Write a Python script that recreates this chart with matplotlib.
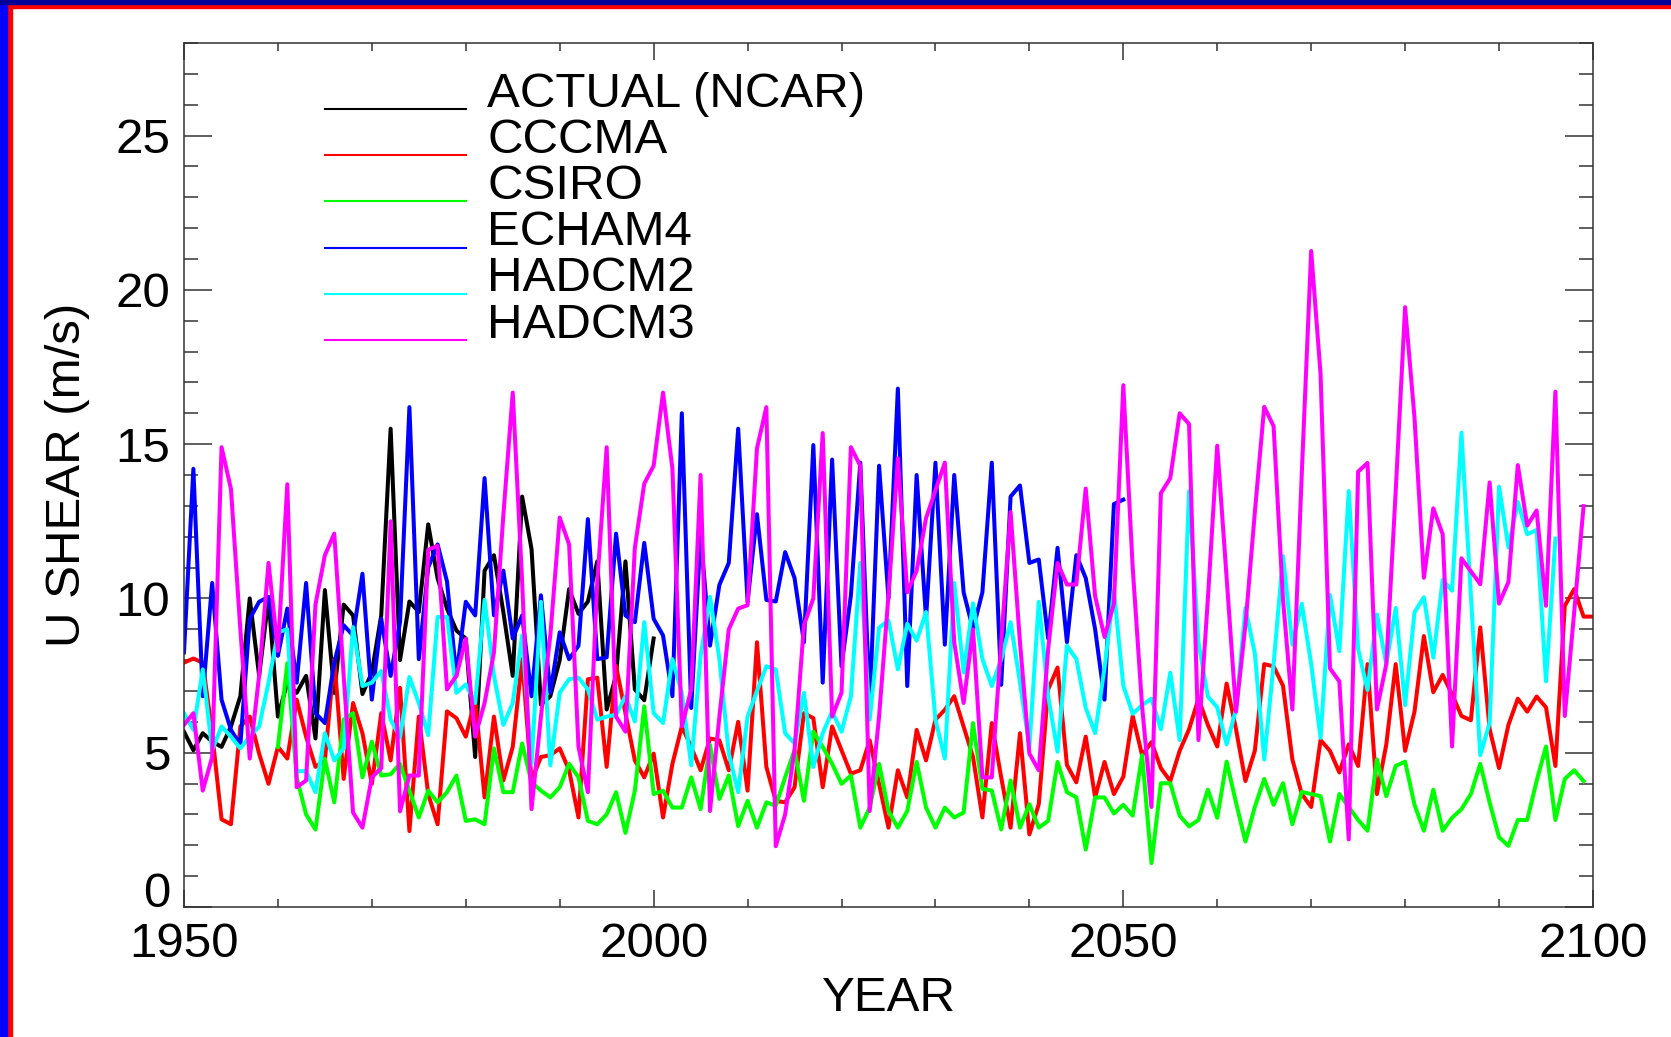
import numpy as np
import matplotlib
matplotlib.use('Agg')
import matplotlib.pyplot as plt
from matplotlib.patches import Rectangle
from matplotlib.ticker import MultipleLocator

# annual U shear (m/s)
actual_start = 1950
actual = [5.68, 5.08, 5.63, 5.36, 5.19, 5.85, 6.83, 10.0, 7.5, 10.0,
          6.17, 7.27, 6.94, 7.49, 5.46, 10.27, 6.94, 9.8, 9.45, 6.9,
          7.6, 9.45, 15.5, 8.0, 9.9, 9.56, 12.4, 10.65, 9.67, 8.96,
          8.7, 4.86, 10.9, 11.4, 9.56, 7.49, 13.3, 11.6, 6.56, 6.83,
          8.0, 10.3, 9.5, 9.9, 11.2, 6.4, 7.5, 11.2, 7.05, 6.7,
          8.7]

cccma_start = 1950
cccma = [7.92, 8.05, 7.92, 5.63, 2.84, 2.68, 5.85, 6.17, 4.97, 3.99,
         5.19, 4.81, 6.72, 5.52, 4.54, 4.75, 8.03, 4.15, 6.61, 5.63,
         3.99, 6.28, 4.75, 7.1, 2.46, 6.17, 3.66, 2.68, 6.34, 6.12,
         5.52, 6.72, 3.55, 6.17, 4.1, 5.19, 8.03, 4.1, 4.86, 4.92,
         5.14, 4.43, 2.9, 7.38, 7.43, 4.54, 7.81, 6.28, 4.75, 4.2,
         4.97, 2.9, 4.64, 5.85, 5.19, 4.43, 5.46, 5.4, 4.43, 6.0,
         3.77, 8.58, 4.54, 3.44, 3.39, 3.88, 6.28, 6.12, 3.88, 5.85,
         5.08, 4.32, 4.43, 5.4, 3.99, 2.57, 4.43, 3.55, 5.74, 4.75,
         6.07, 6.39, 6.83, 5.85, 4.86, 2.9, 5.96, 4.2, 2.57, 5.63,
         2.35, 3.33, 7.05, 7.76, 4.6, 4.04, 5.52, 3.55, 4.7, 3.66,
         4.22, 6.19, 4.92, 5.34, 4.5, 4.08, 5.06, 5.76, 6.75, 5.9,
         5.2, 7.24, 5.76, 4.08, 5.06, 7.87, 7.8, 7.17, 4.78, 3.66,
         3.24, 5.41, 5.06, 4.36, 5.27, 4.57, 7.87, 3.66, 5.27, 7.87,
         5.06, 6.33, 8.78, 6.96, 7.52, 6.89, 6.19, 6.05, 9.06, 5.76,
         4.5, 5.9, 6.75, 6.33, 6.82, 6.47, 4.57, 9.76, 10.3, 9.41,
         9.41]

csiro_start = 1960
csiro = [5.19, 7.9, 4.2, 3.0, 2.51, 4.8, 3.39, 6.07, 6.28, 4.2,
         5.36, 4.26, 4.3, 4.64, 3.77, 2.9, 3.77, 3.39, 3.72, 4.26,
         2.79, 2.84, 2.68, 5.14, 3.72, 3.72, 5.3, 4.04, 3.77, 3.55,
         3.88, 4.64, 4.2, 2.79, 2.68, 3.0, 3.72, 2.4, 3.77, 6.5,
         3.66, 3.77, 3.22, 3.22, 4.2, 3.17, 5.25, 3.5, 4.26, 2.62,
         3.44, 2.57, 3.39, 3.28, 4.2, 5.08, 3.44, 5.68, 5.19, 4.64,
         3.99, 4.26, 2.57, 3.22, 4.64, 3.11, 2.57, 3.11, 4.7, 3.22,
         2.57, 3.22, 2.9, 3.06, 5.96, 3.83, 3.77, 2.51, 4.1, 2.57,
         3.33, 2.57, 2.79, 4.7, 3.72, 3.55, 1.86, 3.55, 3.55, 3.03,
         3.31, 2.96, 4.92, 1.42, 4.01, 4.01, 2.96, 2.61, 2.82, 3.8,
         2.89, 4.71, 3.38, 2.12, 3.24, 4.15, 3.31, 4.01, 2.68, 3.73,
         3.66, 3.59, 2.12, 3.66, 3.24, 2.82, 2.47, 4.78, 3.59, 4.57,
         4.71, 3.31, 2.47, 3.8, 2.47, 2.89, 3.17, 3.66, 4.64, 3.38,
         2.26, 1.98, 2.82, 2.82, 4.08, 5.2, 2.82, 4.15, 4.43, 4.08]

echam4_start = 1950
echam4 = [8.25, 14.2, 6.83, 10.5, 6.72, 5.74, 5.25, 9.34, 9.89, 10.05,
          8.14, 9.67, 7.27, 10.5, 6.28, 5.96, 7.92, 9.13, 8.8, 10.8,
          6.72, 9.34, 7.49, 9.23, 16.2, 8.03, 11.0, 11.75, 10.55, 7.49,
          9.89, 9.45, 13.9, 9.45, 10.9, 8.7, 9.45, 6.83, 10.1, 6.94,
          8.9, 8.03, 8.47, 12.57, 8.03, 8.09, 12.1, 9.45, 9.23, 11.8,
          9.34, 8.8, 6.83, 16.0, 6.45, 12.08, 8.47, 10.44, 11.15, 15.5,
          9.89, 12.73, 9.95, 9.9, 11.5, 10.66, 8.58, 14.97, 7.27, 14.5,
          7.8, 10.1, 14.4, 6.5, 14.3, 10.0, 16.8, 7.16, 14.0, 9.34,
          14.4, 8.5, 14.0, 10.2, 9.0, 10.2, 14.4, 7.2, 13.3, 13.66,
          11.15, 11.26, 8.7, 11.64, 8.58, 11.4, 10.66, 9.0, 6.72, 13.06,
          13.2]

hadcm2_start = 1950
hadcm2 = [6.28, 5.74, 7.7, 5.08, 5.85, 5.52, 5.14, 5.52, 5.85, 7.27,
          8.9, 9.0, 4.4, 4.4, 3.72, 5.63, 4.75, 5.14, 9.07, 7.16,
          7.27, 7.65, 6.07, 5.5, 7.45, 6.61, 5.57, 9.4, 9.4, 6.94,
          7.21, 6.61, 9.95, 7.49, 5.9, 6.61, 8.8, 4.64, 9.89, 4.59,
          6.94, 7.38, 7.43, 7.05, 6.07, 6.17, 6.23, 6.83, 6.01, 9.23,
          6.28, 5.96, 8.03, 6.94, 4.59, 8.14, 10.05, 8.03, 4.97, 3.72,
          6.17, 7.0, 7.8, 7.7, 5.63, 5.3, 6.94, 4.54, 5.63, 6.34,
          5.68, 6.83, 11.15, 6.07, 9.05, 9.29, 7.7, 9.18, 8.63, 9.56,
          6.07, 4.81, 10.5, 7.6, 9.84, 8.03, 7.16, 8.03, 9.23, 7.27,
          5.19, 9.89, 6.83, 5.03, 8.47, 8.03, 6.45, 5.63, 7.75, 10.25,
          7.17, 6.26, 6.54, 6.75, 5.76, 7.59, 5.41, 13.48, 8.57, 6.82,
          6.47, 5.27, 6.4, 9.69, 8.22, 4.78, 7.87, 11.37, 8.5, 9.83,
          7.87, 5.48, 10.11, 8.29, 13.48, 8.36, 7.03, 9.48, 7.87, 9.69,
          6.54, 9.55, 10.04, 8.08, 10.6, 10.25, 15.37, 10.11, 4.92, 5.97,
          13.62, 11.65, 13.13, 12.08, 12.22, 7.31, 11.94]

hadcm3_start = 1950
hadcm3 = [5.9, 6.28, 3.77, 4.86, 14.9, 13.55, 9.0, 4.81, 7.5, 11.15,
          8.3, 13.7, 3.88, 4.1, 9.8, 11.4, 12.1, 7.5, 3.06, 2.57,
          4.2, 4.5, 12.5, 3.1, 4.26, 4.26, 11.58, 11.7, 7.05, 7.49,
          8.69, 5.52, 6.61, 8.25, 12.7, 16.67, 10.55, 3.17, 6.17, 8.8,
          12.62, 11.75, 5.19, 3.72, 10.55, 14.9, 6.17, 5.68, 11.64, 13.72,
          14.3, 16.67, 14.2, 5.85, 7.05, 14.0, 3.11, 6.17, 9.0, 9.67,
          9.78, 14.86, 16.2, 1.97, 3.0, 5.08, 9.13, 10.0, 15.36, 6.17,
          6.94, 14.9, 14.3, 3.11, 6.17, 10.1, 14.54, 10.2, 10.9, 12.6,
          13.5, 14.4, 8.58, 6.61, 9.0, 4.2, 4.2, 8.58, 12.8, 8.58,
          4.97, 4.43, 8.36, 11.15, 10.45, 10.45, 13.56, 10.07, 8.75, 9.83,
          16.91, 11.0, 6.5, 3.24, 13.41, 13.9, 16.0, 15.65, 5.41, 9.97,
          14.95, 10.67, 6.33, 9.13, 12.78, 16.21, 15.58, 9.97, 6.4, 14.04,
          21.26, 17.27, 7.73, 7.31, 2.19, 14.11, 14.39, 6.4, 7.87, 13.48,
          19.44, 15.86, 10.67, 12.92, 12.08, 5.2, 11.3, 10.88, 10.46, 13.76,
          9.83, 10.53, 14.32, 12.36, 12.85, 9.76, 16.7, 6.19, 9.55, 12.99]

labels = ['ACTUAL (NCAR)', 'CCCMA', 'CSIRO', 'ECHAM4', 'HADCM2', 'HADCM3']
starts = [actual_start, cccma_start, csiro_start, echam4_start, hadcm2_start, hadcm3_start]
series = [actual, cccma, csiro, echam4, hadcm2, hadcm3]
colors = ['black', '#ff0000', '#00ff00', '#0000ff', '#00ffff', '#ff00ff']

FONT_SIZE = 35.5
plt.rcParams['font.family'] = ['Liberation Sans', 'DejaVu Sans']
plt.rcParams['font.size'] = FONT_SIZE

fig = plt.figure(figsize=(16.71, 10.37), dpi=100)
ax = fig.add_axes([0.1101, 0.1254, 0.8432, 0.8331])

for lab, start, vals, col in zip(labels, starts, series, colors):
    years = np.arange(start, start + len(vals))
    ax.plot(years, vals, color=col, lw=2.9, label=lab)

ax.set_xlim(1950, 2100)
ax.set_ylim(0, 28)
ax.xaxis.set_major_locator(MultipleLocator(50))
ax.xaxis.set_minor_locator(MultipleLocator(10))
ax.yaxis.set_major_locator(MultipleLocator(5))
ax.yaxis.set_minor_locator(MultipleLocator(1))

# ticks inside on every side, like the IDL default
ax.tick_params(which='both', direction='in', top=True, right=True, color='#333333', width=1.1)
ax.tick_params(axis='x', which='major', length=12.5, pad=11)
ax.tick_params(axis='x', which='minor', length=6)
ax.tick_params(axis='y', which='major', length=20, pad=10)
ax.tick_params(axis='y', which='minor', length=10)
for sp in ax.spines.values():
    sp.set_color('#333333')
    sp.set_linewidth(1.1)

ax.set_xlabel('YEAR', labelpad=6)
ax.set_ylabel('U SHEAR (m/s)', labelpad=18)

leg = ax.legend(loc='upper left', bbox_to_anchor=(0.100, 0.967), frameon=False,
                handlelength=2.86, handletextpad=0.43, labelspacing=0.025,
                borderpad=0, borderaxespad=0)
# legend lines drawn at the text baseline
for h in leg.get_lines():
    h.set_linewidth(1.5)
    h.set_ydata(np.asarray(h.get_ydata()) - 0.40 * FONT_SIZE)

# red / blue frame around the picture
fig.patches.append(Rectangle((0, 0), 12 / 1671, 1, transform=fig.transFigure, color='#ff0000', zorder=5))
fig.patches.append(Rectangle((0, 0), 7 / 1671, 1, transform=fig.transFigure, color='#0000ff', zorder=6))
fig.patches.append(Rectangle((0, 1 - 8 / 1037), 1, 8 / 1037, transform=fig.transFigure, color='#ff0000', zorder=5))
fig.patches.append(Rectangle((0, 1 - 4 / 1037), 1, 4 / 1037, transform=fig.transFigure, color='#000099', zorder=6))

# the "0" label sits on the axis rather than centred on it
fig.canvas.draw()
for t in ax.yaxis.get_major_ticks():
    if abs(t.get_loc()) < 1e-9:
        t.label1.set_verticalalignment('baseline')

fig.savefig('out.png', dpi=100)
